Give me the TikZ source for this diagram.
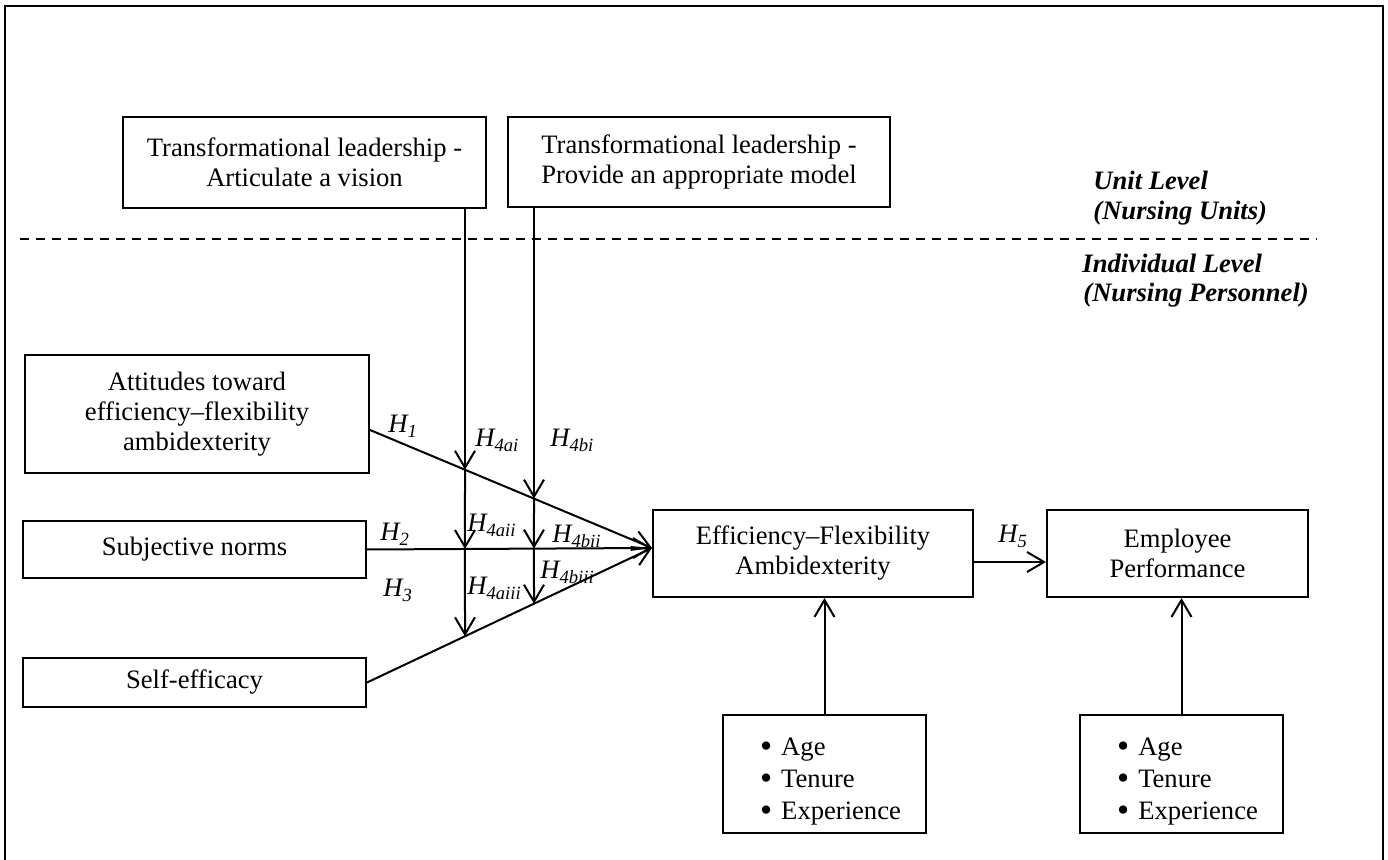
\documentclass[tikz,border=0pt]{standalone}
\usepackage{fontspec}
\setmainfont{Liberation Serif}
\usetikzlibrary{arrows.meta,calc}
\newcommand{\bigbul}{\hspace*{6pt}\raisebox{-1.1pt}{\scalebox{1.3}{\textbullet}}\hspace{4.5pt}}
\tikzset{
  txt/.style={font=\fontsize{13.3pt}{15pt}\selectfont},
  box/.style={draw, line width=1pt, inner sep=0pt, align=center, txt},
  listbox/.style={box, align=left, minimum width=101.5pt, minimum height=59pt, font=\fontsize{13.3pt}{16pt}\selectfont},
  arr/.style={line width=1pt, -{Straight Barb[length=8.5pt,width=10pt]}},
  hlab/.style={anchor=base west, inner sep=0pt, font=\fontsize{13.3pt}{15pt}\selectfont\itshape},
  lvl/.style={anchor=base west, inner sep=0pt, font=\fontsize{13.3pt}{15pt}\selectfont\bfseries\itshape}
}
\begin{document}
\begin{tikzpicture}[x=0.5pt,y=-0.5pt]
\useasboundingbox (0,0) rectangle (1388,860);
% outer frame (bottom edge outside the picture)
\draw[line width=1pt] (5,860) -- (5,6) -- (1383,6) -- (1383,860);
% level separator
\draw[line width=0.75pt, dash pattern=on 4.5pt off 3.5pt] (20,239) -- (1317,239);
\node[lvl] (ul1) at (1093,190) {Unit Level};
\node[lvl] (ul2) at (1093,220) {(Nursing Units)};
\node[lvl] (il1) at (1082,273) {Individual Level};
\node[lvl] (il2) at (1083,302) {(Nursing Personnel)};
% boxes
\node[box, minimum width=181.5pt, minimum height=45.5pt] (tl1) at (304.5,162.5) {Transformational leadership -\\Articulate a vision};
\node[box, minimum width=191pt, minimum height=45pt] (tl2) at (699,162) {Transformational leadership -\\Provide an appropriate model};
\node[box, minimum width=172pt, minimum height=59pt] (att) at (197,414) {Attitudes toward\\efficiency--flexibility\\ambidexterity};
\node[box, minimum width=171.5pt, minimum height=28.5pt] (sn) at (194.5,549.5) {Subjective norms};
\node[box, minimum width=171.5pt, minimum height=24.5pt] (se) at (194.5,682.5) {Self-efficacy};
\node[box, minimum width=160pt, minimum height=43.5pt] (ef) at (813,553.5) {Efficiency--Flexibility\\Ambidexterity};
\node[box, minimum width=130.5pt, minimum height=43.5pt] (ep) at (1177.5,553.5) {Employee\\Performance};
\node[listbox] (lb1) at (824.5,774) {\rule{0pt}{16pt}\bigbul Age\\\bigbul Tenure\\\bigbul Experience};
\node[listbox] (lb2) at (1181.5,774) {\rule{0pt}{16pt}\bigbul Age\\\bigbul Tenure\\\bigbul Experience};
% key points
\coordinate (c) at ($(ef.west)+(0,-5.5)$);
\coordinate (a1) at ($(att.east)+(0,16)$);
\coordinate (s1) at (sn.east);
\coordinate (e1) at (se.east);
\coordinate (v1t) at ($(tl1.south)+(160.5,0)$);
\coordinate (v1b) at ($(v1t)+(0,600)$);
\coordinate (v2t) at ($(tl2.south)+(-165,0)$);
\coordinate (v2b) at ($(v2t)+(0,600)$);
\coordinate (p11) at (intersection of v1t--v1b and a1--c);
\coordinate (p12) at (intersection of v1t--v1b and s1--c);
\coordinate (p13) at (intersection of v1t--v1b and e1--c);
\coordinate (p21) at (intersection of v2t--v2b and a1--c);
\coordinate (p22) at (intersection of v2t--v2b and s1--c);
\coordinate (p23) at (intersection of v2t--v2b and e1--c);
% main paths
\draw[arr] (a1) -- (c);
\draw[arr] (s1) -- (c);
\draw[arr] (e1) -- (c);
\draw[arr] (v1t) -- (p11);
\draw[arr] (p11) -- (p12);
\draw[arr] (p12) -- (p13);
\draw[arr] (v2t) -- (p21);
\draw[arr] (p21) -- (p22);
\draw[arr] (p22) -- (p23);
\draw[arr] ($(ef.east)+(0,8.5)$) coordinate (h5s) -- (h5s -| ep.west);
\draw[arr] (lb1.north) -- (lb1.north |- ef.south);
\draw[arr] (lb2.north) -- (lb2.north |- ep.south);
% labels
\node[hlab] (h1) at (388,433) {H\textsubscript{1}};
\node[hlab] (h2) at (380,541) {H\textsubscript{2}};
\node[hlab] (h3) at (383,597) {H\textsubscript{3}};
\node[hlab] (h4ai) at (475,447) {H\textsubscript{4ai}};
\node[hlab] (h4aii) at (467,532) {H\textsubscript{4aii}};
\node[hlab] (h4aiii) at (467,595) {H\textsubscript{4aiii}};
\node[hlab] (h4bi) at (550,447) {H\textsubscript{4bi}};
\node[hlab] (h4bii) at (552,543) {H\textsubscript{4bii}};
\node[hlab] (h4biii) at (540,579) {H\textsubscript{4biii}};
\node[hlab] (h5) at (998,543) {H\textsubscript{5}};
\end{tikzpicture}
\end{document}
